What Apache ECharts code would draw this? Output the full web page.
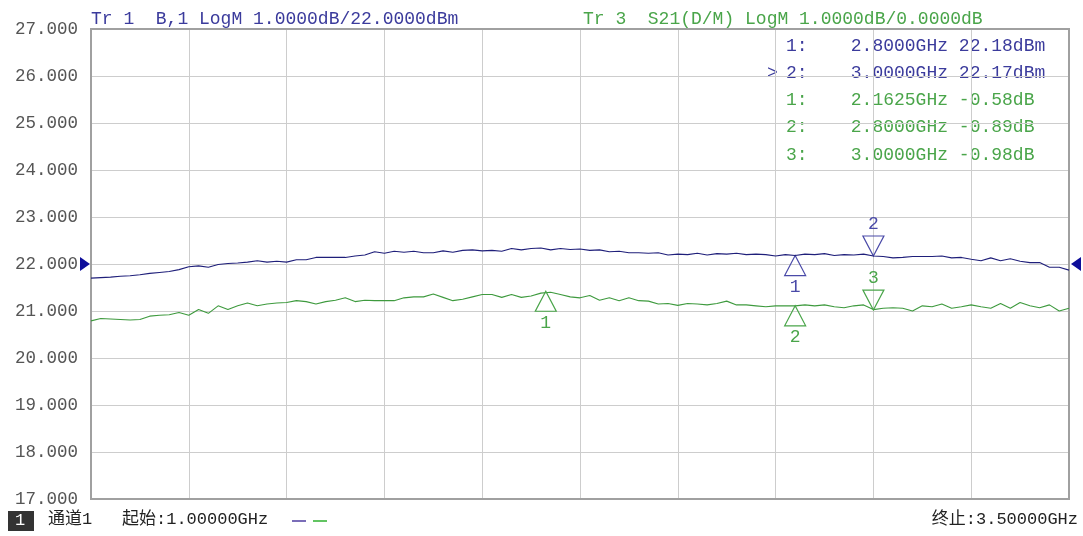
<!DOCTYPE html>
<html><head><meta charset="utf-8">
<script src="https://cdn.jsdelivr.net/npm/echarts@6/dist/echarts.min.js"></script>
<style>html,body{margin:0;padding:0;background:#fff}#c{width:1083px;height:536px}</style>
</head><body><div id="c"></div>
<script>
// ---- data ----
const freqStart = 1.0, freqStop = 3.5, nPoints = 101;
const freqs = Array.from({length: nPoints}, (_, i) => +(freqStart + i * (freqStop - freqStart) / (nPoints - 1)).toFixed(4));

// Tr 1 : B,1 LogM (dBm)
const tr1Values = [
 21.70,21.71,21.72,21.74,21.75,21.77,21.80,21.82,21.84,21.88,
 21.94,21.96,21.93,21.99,22.01,22.02,22.04,22.07,22.04,22.06,
 22.04,22.09,22.09,22.14,22.14,22.14,22.14,22.17,22.19,22.26,
 22.23,22.27,22.25,22.27,22.24,22.24,22.28,22.25,22.29,22.30,
 22.28,22.29,22.27,22.33,22.30,22.33,22.34,22.30,22.33,22.31,
 22.32,22.29,22.30,22.26,22.27,22.24,22.24,22.23,22.24,22.19,
 22.21,22.20,22.23,22.19,22.22,22.21,22.23,22.20,22.21,22.20,
 22.17,22.20,22.18,22.21,22.20,22.22,22.18,22.20,22.19,22.21,
 22.17,22.16,22.13,22.14,22.16,22.16,22.16,22.17,22.13,22.14,
 22.10,22.07,22.13,22.07,22.11,22.06,22.03,22.03,21.93,21.93,
 21.87
];
// Tr 3 : S21(D/M) LogM (dB)
const tr3Values = [
 -1.21,-1.16,-1.17,-1.18,-1.19,-1.18,-1.11,-1.09,-1.08,-1.03,
 -1.09,-0.97,-1.05,-0.89,-0.97,-0.89,-0.83,-0.89,-0.85,-0.83,
 -0.82,-0.78,-0.80,-0.85,-0.80,-0.77,-0.72,-0.80,-0.77,-0.78,
 -0.78,-0.78,-0.72,-0.70,-0.70,-0.64,-0.71,-0.78,-0.75,-0.70,
 -0.65,-0.65,-0.71,-0.65,-0.71,-0.68,-0.62,-0.60,-0.65,-0.70,
 -0.72,-0.67,-0.77,-0.72,-0.78,-0.72,-0.78,-0.79,-0.85,-0.84,
 -0.88,-0.84,-0.85,-0.87,-0.84,-0.79,-0.87,-0.87,-0.89,-0.91,
 -0.89,-0.89,-0.89,-0.87,-0.89,-0.87,-0.91,-0.93,-0.89,-0.87,
 -0.97,-0.94,-0.93,-0.94,-1.00,-0.89,-0.91,-0.85,-0.94,-0.91,
 -0.87,-0.91,-0.94,-0.84,-0.94,-0.82,-0.89,-0.93,-0.87,-1.00,
 -0.94
];

const tr1MarkerFreqs = [2.8, 3.0];
const tr1MarkerVals  = [22.18, 22.17];
const tr1MarkerDirs  = ['up', 'down'];
const tr3MarkerFreqs = [2.1625, 2.8, 3.0];
const tr3MarkerVals  = [-0.58, -0.89, -0.98];
const tr3MarkerDirs  = ['up', 'up', 'down'];

const tr1Ref = 22, tr1Scale = 1;   // dBm
const tr3Ref = 0,  tr3Scale = 1;   // dB
const yTickMin = 17, yTickMax = 27;

const headerTr1 = 'Tr 1  B,1 LogM 1.0000dB/22.0000dBm';
const headerTr3 = 'Tr 3  S21(D/M) LogM 1.0000dB/0.0000dB';
const startLabel = '起始:1.00000GHz';
const stopLabel = '终止:3.50000GHz';
const channelLabel = '通道1';

// ---- styles ----
const BLUE = '#1f1f7a', BLUE_TXT = '#3b3b9c', GREEN = '#3e9a3e', GREEN_TXT = '#4aa54a';
const MONO = '"Liberation Mono", "Noto Sans CJK SC", monospace';

const chart = echarts.init(document.getElementById('c'), null, {renderer: 'canvas'});

function markerPoints(fs, vs, dirs, color) {
  return fs.map((f, i) => ({
    name: String(i + 1),
    coord: [f, vs[i]],
    symbol: 'triangle',
    symbolSize: [21, 20],
    symbolRotate: dirs[i] === 'up' ? 0 : 180,
    symbolOffset: [0, dirs[i] === 'up' ? 10 : -10],
    itemStyle: {color: 'rgba(255,255,255,0)', borderColor: color, borderWidth: 1.2},
    label: {show: true, position: dirs[i] === 'up' ? 'bottom' : 'top', distance: 2,
            formatter: String(i + 1), color: color, fontFamily: MONO, fontSize: 18}
  }));
}

const tr1Data = freqs.map((f, i) => [f, tr1Values[i]]);
const tr3Data = freqs.map((f, i) => [f, tr3Values[i]]);

const rows = [];
tr1MarkerFreqs.forEach((f, i) => rows.push({text: (i + 1) + ':    ' + f.toFixed(4) + 'GHz ' + tr1MarkerVals[i].toFixed(2) + 'dBm', color: BLUE_TXT, active: i === 1}));
tr3MarkerFreqs.forEach((f, i) => rows.push({text: (i + 1) + ':    ' + f.toFixed(4) + 'GHz ' + tr3MarkerVals[i].toFixed(2) + 'dB', color: GREEN_TXT, active: false}));

const graphics = [
  {type: 'text', left: 91, top: 10, style: {text: headerTr1, font: '18px ' + MONO, fill: BLUE_TXT}},
  {type: 'text', left: 583, top: 10, style: {text: headerTr3, font: '18px ' + MONO, fill: GREEN_TXT}},
  {type: 'rect', left: 8, top: 511, shape: {width: 26, height: 20}, style: {fill: '#333'}},
  {type: 'text', left: 15, top: 512, style: {text: '1', font: '17px ' + MONO, fill: '#fff'}},
  {type: 'text', left: 48, top: 511, style: {text: channelLabel, font: '17px ' + MONO, fill: '#222'}},
  {type: 'text', left: 122, top: 511, style: {text: startLabel, font: '17px ' + MONO, fill: '#222'}},
  {type: 'line', shape: {x1: 292, y1: 521, x2: 306, y2: 521}, style: {stroke: '#7a6db8', lineWidth: 2}},
  {type: 'line', shape: {x1: 313, y1: 521, x2: 327, y2: 521}, style: {stroke: '#62c462', lineWidth: 2}},
  {type: 'text', right: 5, top: 511, style: {text: stopLabel, font: '17px ' + MONO, fill: '#222'}}
];
rows.forEach((r, i) => {
  graphics.push({type: 'text', left: 786, top: 37 + i * 27.2, style: {text: r.text, font: '18px ' + MONO, fill: r.color}});
  if (r.active) graphics.push({type: 'text', left: 767, top: 37 + i * 27.2, style: {text: '>', font: '18px ' + MONO, fill: r.color}});
});

const option = {
  animation: false,
  backgroundColor: '#fff',
  grid: {left: 91, right: 14, top: 29, bottom: 37, show: true, borderColor: '#a0a0a0', borderWidth: 2, backgroundColor: 'transparent', z: 3},
  xAxis: {type: 'value', min: freqStart, max: freqStop, interval: 0.25,
    axisLine: {show: false}, axisTick: {show: false}, axisLabel: {show: false},
    splitLine: {show: true, lineStyle: {color: '#cdcdcd', width: 1}}},
  yAxis: [
    {type: 'value', min: yTickMin, max: yTickMax, interval: tr1Scale,
     axisLine: {show: false}, axisTick: {show: false},
     axisLabel: {formatter: v => v.toFixed(3), color: '#555', fontFamily: MONO, fontSize: 17.5, margin: 13},
     splitLine: {show: true, lineStyle: {color: '#cdcdcd', width: 1}}},
    {type: 'value', min: tr3Ref - 5 * tr3Scale, max: tr3Ref + 5 * tr3Scale, show: false, splitLine: {show: false}}
  ],
  series: [
    {type: 'line', name: 'Tr 1', data: tr1Data, yAxisIndex: 0, showSymbol: false, z: 5,
     lineStyle: {color: BLUE, width: 1.1}, itemStyle: {color: BLUE},
     markPoint: {silent: true, data: [
       ...markerPoints(tr1MarkerFreqs, tr1MarkerVals, tr1MarkerDirs, '#4a4aa8'),
       {coord: [freqStart, tr1Ref], symbol: 'triangle', symbolSize: [14, 10], symbolRotate: -90, symbolOffset: [-6, 0], itemStyle: {color: '#0d0d9a'}, label: {show: false}},
       {coord: [freqStop, tr1Ref], symbol: 'triangle', symbolSize: [14, 10], symbolRotate: 90, symbolOffset: [7, 0], itemStyle: {color: '#0d0d9a'}, label: {show: false}}
     ]}},
    {type: 'line', name: 'Tr 3', data: tr3Data, yAxisIndex: 1, showSymbol: false, z: 4,
     lineStyle: {color: GREEN, width: 1.1}, itemStyle: {color: GREEN},
     markPoint: {silent: true, data: markerPoints(tr3MarkerFreqs, tr3MarkerVals, tr3MarkerDirs, '#4aa54a')}}
  ],
  graphic: graphics
};
chart.setOption(option);
</script></body></html>
